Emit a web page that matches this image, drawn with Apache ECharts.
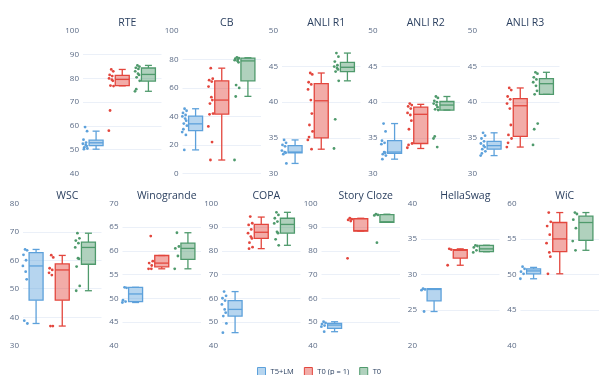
<!DOCTYPE html>
<html>
<head>
<meta charset="utf-8">
<script src="https://cdn.jsdelivr.net/npm/echarts@6.0.0/dist/echarts.min.js"></script>
<style>
  html, body { margin: 0; padding: 0; background: #fff; }
  #chart { width: 600px; height: 375px; }
</style>
</head>
<body>
<div id="chart"></div>
<script>
const tasks = ['RTE', 'CB', 'ANLI R1', 'ANLI R2', 'ANLI R3', 'WSC', 'Winogrande', 'COPA', 'Story Cloze', 'HellaSwag', 'WiC'];
const methods = ['T5+LM', 'T0 (p = 1)', 'T0'];

// y axis ticks per task
const yMin  = [40, 0, 30, 30, 30, 30, 40, 40, 40, 20, 40];
const yMax  = [100, 100, 50, 50, 50, 80, 70, 100, 100, 40, 60];
const yStep = [10, 20, 5, 5, 5, 10, 5, 10, 10, 5, 5];

// one point per prompt: [T5+LM, T0 (p = 1), T0]
const rtePts = [
  [59.5, 57.8, 54.2, 53, 52.5, 52, 51.5, 51, 50.5, 50.2],
  [83.8, 83, 81.5, 81, 80, 79.5, 79, 77, 76.8, 66.5, 58],
  [85.5, 85, 84.5, 84, 83, 82, 81.5, 80.5, 79, 75.5, 74.6]
];
const cbPts = [
  [45.4, 44, 42.5, 41, 40, 38.5, 37, 35, 33.5, 31, 29, 27, 16.5],
  [73.9, 66.5, 65.5, 64.5, 61, 53.5, 51.5, 49, 42, 41.5, 33, 22, 9.4],
  [81.5, 81, 80.5, 80, 79.5, 79, 78, 62, 60, 54, 9.4]
];
const anli1Pts = [
  [34.7, 34.3, 34, 33.8, 33.2, 33, 32.9, 32.7, 31.4, 29.9],
  [44.1, 43.9, 42.8, 42.5, 41.8, 40.3, 38.4, 36.8, 35.9, 35.1, 34.7, 33.4],
  [46.9, 46.4, 45.7, 45.2, 45, 44.8, 44.6, 44.3, 43, 37.6, 33.5]
];
const anli2Pts = [
  [37, 35.9, 34.6, 34.3, 34.1, 33, 32.9, 32.7, 32.5, 32],
  [39.8, 39.6, 39.4, 39.1, 38.5, 38.2, 37.4, 36.2, 34.2, 34, 33.6],
  [40.8, 40.6, 40.2, 40, 39.8, 39.6, 39.3, 39, 38.9, 35.2, 34.9, 33.7]
];
const anli3Pts = [
  [35.7, 35.3, 34.9, 34.5, 34.2, 33.9, 33.7, 33.4, 33.1, 32.8, 32.5],
  [42, 41.7, 40.8, 40.4, 39.8, 39.1, 36.8, 35.4, 34.9, 34.3, 33.7],
  [44.2, 44, 43.5, 43.2, 42.8, 42.3, 41.6, 41.1, 37, 36.2, 34]
];
const wscPts = [
  [63.8, 63.5, 61.9, 60, 58, 56, 53.3, 38.8, 37.8],
  [61.8, 61, 57.2, 56.6, 55.6, 54.8, 36.9, 36.9],
  [69.5, 67.7, 66.9, 66, 64.5, 60.7, 60.5, 57.8, 51, 49.3]
];
const winoPts = [
  [52.3, 52.2, 49.6, 49.3, 49.1],
  [63.1, 57.8, 57.4, 56.9, 56.2, 56.2],
  [63.8, 60.9, 60.5, 58.9, 56.2]
];
const copaPts = [
  [62.8, 61, 60, 59, 57.4, 55.3, 53.9, 52.5, 49.4, 45.5],
  [94.4, 91.6, 90.9, 89, 87.4, 86, 85.2, 83.4, 81.5, 80.9],
  [96.2, 95.1, 93.7, 92.3, 91.5, 88, 87.4, 84.8, 82.3]
];
const storyPts = [
  [50.1, 49.6, 49.1, 48.5, 48, 45.9],
  [93.7, 93.3, 93, 92.5, 76.8],
  [95.4, 95.1, 94.9, 83.4]
];
const hellaPts = [
  [28, 27.9, 27.8, 24.8],
  [33.6, 33.5, 31.3],
  [34.1, 34, 33.8, 33.4, 33.1]
];
const wicPts = [
  [51.1, 50.8, 50.4, 50.1, 49.4],
  [58.7, 57.4, 56.8, 55.6, 54.4, 53.1, 52.5, 50.1],
  [58.7, 58.5, 57.7, 56.5, 54.7, 53.4]
];

// box stats: [lower whisker, q1, median, q3, upper whisker]
const rteBox   = [[50.2, 51.7, 52.9, 54, 57.8], [76.9, 77, 79.6, 81.3, 83.8], [74.6, 78.9, 81.7, 84.4, 85.5]];
const cbBox    = [[16.5, 30.1, 34.8, 40.2, 45.4], [9.4, 41.6, 51.5, 65, 73.9], [54.1, 65, 79, 81, 81.2]];
const anli1Box = [[31.4, 32.9, 33, 33.9, 34.7], [33.4, 35, 40.2, 42.6, 44.1], [43, 44.3, 44.9, 45.6, 46.9]];
const anli2Box = [[32, 32.8, 33, 34.6, 37], [33.5, 34.2, 38.3, 39.3, 39.7], [38.9, 38.9, 39.6, 40.1, 40.8]];
const anli3Box = [[32.5, 33.4, 33.9, 34.5, 35.7], [33.7, 35.2, 39.5, 40.5, 42], [41.1, 41.1, 42.6, 43.3, 44.2]];
const wscBox   = [[37.8, 46, 58, 62.7, 63.8], [36.9, 46, 56.6, 58.7, 61.7], [49.3, 58.6, 64.5, 66.4, 69.5]];
const winoBox  = [[49.1, 49.3, 50.9, 52.3, 52.3], [56.2, 56.6, 57.4, 59, 59], [56.2, 58.2, 60.5, 61.6, 63.8]];
const copaBox  = [[45.5, 52.5, 55.3, 59, 62.8], [80.9, 85.2, 87.8, 91.1, 94.2], [82.3, 87.4, 91.1, 93.7, 96.2]];
const storyBox = [[45.9, 47.3, 48.7, 49.4, 50.1], [88.3, 88.3, 88.5, 93.5, 93.7], [92, 92, 92.2, 95.2, 95.4]];
const hellaBox = [[24.8, 26.3, 27.9, 28, 28], [31.3, 32.3, 33.4, 33.5, 33.6], [33.2, 33.2, 33.6, 34.1, 34.1]];
const wicBox   = [[49.4, 50.1, 50.5, 50.8, 51], [50.1, 53.2, 55, 57.3, 58.7], [53.4, 54.8, 57.3, 58.2, 58.7]];

const allPts = [rtePts, cbPts, anli1Pts, anli2Pts, anli3Pts, wscPts, winoPts, copaPts, storyPts, hellaPts, wicPts];
const allBox = [rteBox, cbBox, anli1Box, anli2Box, anli3Box, wscBox, winoBox, copaBox, storyBox, hellaBox, wicBox];

const lineColors = ['#5DA1DB', '#E3463D', '#4F9A6C'];
const fillColors = ['rgba(93,161,219,0.45)', 'rgba(227,70,61,0.45)', 'rgba(79,154,108,0.45)'];
const font = 'Open Sans';

// layout of the panels (row 1 has five, row 2 has six)
const gridLeft = [83, 182.5, 282, 381.5, 481, 23, 122.5, 222, 321.5, 421, 520.5];
const gridW = 78.5;
const rowTop = [31, 203.3];
const gridH = 142.4;
const boxW = 14;
// small sideways spread of the points, like plotly's jitter
const jitter = [0, 2, -1.6, 1, -2.2, 0.6, 1.6, -0.8, 2.3, -1.2, -2.4, 1.3, -0.3];

// box drawn like plotly: filled box, median, whiskers with half-width caps
function renderBox(params, api) {
  const k = params.dataIndex;
  const x = api.value(0);
  const pMin = api.coord([x, api.value(1)]);
  const pQ1 = api.coord([x, api.value(2)]);
  const pMed = api.coord([x, api.value(3)]);
  const pQ3 = api.coord([x, api.value(4)]);
  const pMax = api.coord([x, api.value(5)]);
  const cx = pQ1[0], h = boxW / 2, c = boxW / 4;
  const ls = { stroke: lineColors[k], lineWidth: 1.3, fill: null };
  return {
    type: 'group',
    children: [
      { type: 'line', shape: { x1: cx, y1: pQ3[1], x2: cx, y2: pMax[1] }, style: ls },
      { type: 'line', shape: { x1: cx, y1: pQ1[1], x2: cx, y2: pMin[1] }, style: ls },
      { type: 'line', shape: { x1: cx - c, y1: pMax[1], x2: cx + c, y2: pMax[1] }, style: ls },
      { type: 'line', shape: { x1: cx - c, y1: pMin[1], x2: cx + c, y2: pMin[1] }, style: ls },
      { type: 'rect', shape: { x: cx - h, y: pQ3[1], width: boxW, height: pQ1[1] - pQ3[1] },
        style: { fill: fillColors[k], stroke: lineColors[k], lineWidth: 1.3 } },
      { type: 'line', shape: { x1: cx - h, y1: pMed[1], x2: cx + h, y2: pMed[1] }, style: ls }
    ]
  };
}

const chart = echarts.init(document.getElementById('chart'), null, { renderer: 'canvas' });

const grids = [], xAxes = [], yAxes = [], titles = [], series = [];
tasks.forEach((t, g) => {
  const row = g < 5 ? 0 : 1;
  grids.push({ left: gridLeft[g], top: rowTop[row], width: gridW, height: gridH });
  titles.push({
    text: t, left: gridLeft[g] + gridW / 2, top: rowTop[row] - 18, textAlign: 'center',
    textStyle: { fontFamily: font, fontSize: 10.5, fontWeight: 'normal', color: '#2a3f5f' }
  });
  xAxes.push({ type: 'category', gridIndex: g, data: methods, show: false });
  yAxes.push({
    type: 'value', gridIndex: g, min: yMin[g], max: yMax[g], interval: yStep[g],
    axisLine: { show: false }, axisTick: { show: false },
    axisLabel: { fontFamily: font, fontSize: 8, color: '#5a6a85', margin: 4 },
    splitLine: { showMinLine: yMin[g] === 0, showMaxLine: false, lineStyle: { color: '#EBF0F8', width: 1 } }
  });
  series.push({
    type: 'custom', name: 'box' + g, xAxisIndex: g, yAxisIndex: g, silent: true,
    renderItem: renderBox,
    encode: { x: 0, y: [1, 2, 3, 4, 5] },
    data: allBox[g].map((b, m) => [m].concat(b))
  });
  methods.forEach((m, k) => {
    series.push({
      type: 'scatter', name: m, xAxisIndex: g, yAxisIndex: g, silent: true,
      symbolSize: 2.8, itemStyle: { color: lineColors[k], opacity: 1 },
      data: allPts[g][k].map((v, i) => ({
        value: [m, v], symbolOffset: [-11 + jitter[i % jitter.length], 0]
      }))
    });
  });
});

chart.setOption({
  animation: false,
  backgroundColor: '#fff',
  title: titles,
  grid: grids,
  xAxis: xAxes,
  yAxis: yAxes,
  legend: {
    left: 252, top: 362, itemWidth: 8, itemHeight: 8, itemGap: 10,
    textStyle: { fontFamily: font, fontSize: 7.5, color: '#2a3f5f' },
    data: methods.map((m, k) => ({
      name: m, icon: 'rect',
      itemStyle: { color: fillColors[k], borderColor: lineColors[k], borderWidth: 1 }
    }))
  },
  series: series
});
</script>
</body>
</html>
